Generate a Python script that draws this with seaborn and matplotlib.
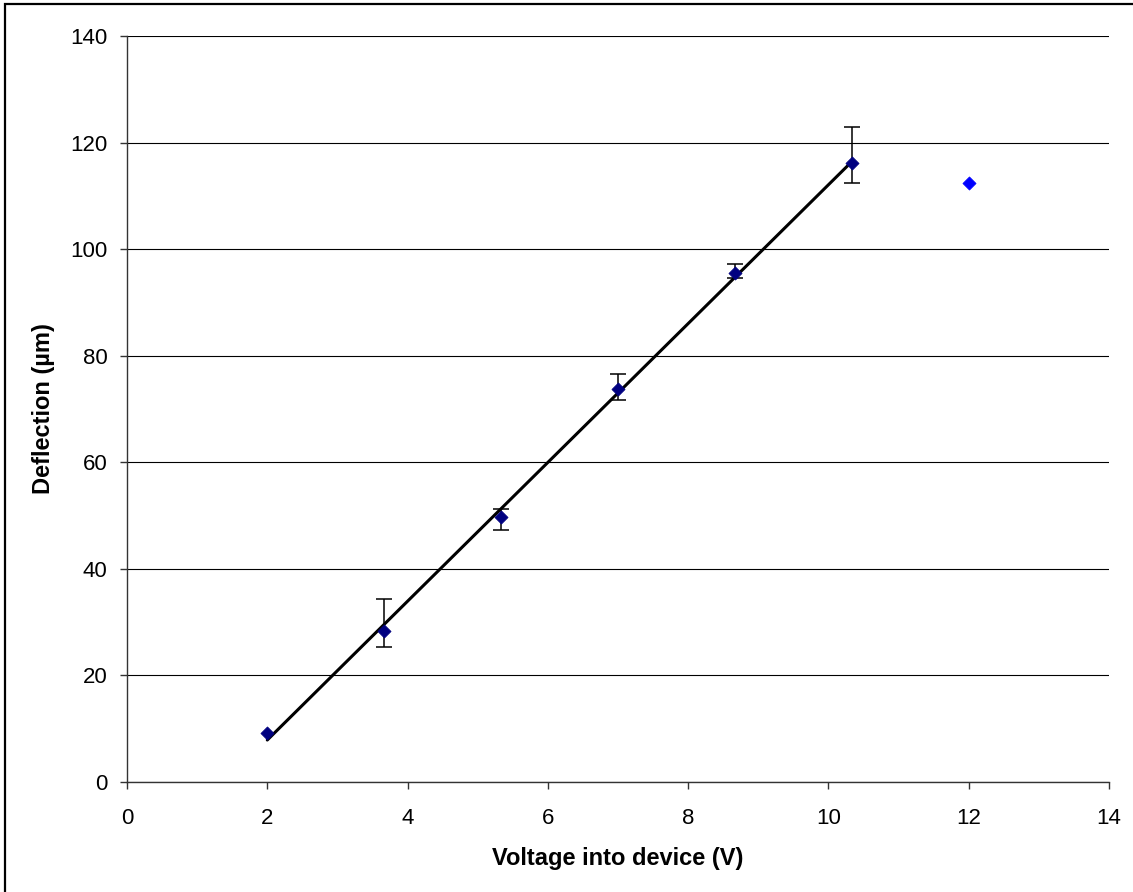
import numpy as np
import pandas as pd
import seaborn as sns
import matplotlib
matplotlib.use("Agg")
import matplotlib.pyplot as plt
from matplotlib.patches import Rectangle

# Measured deflection versus drive voltage
voltage = [2.0, 3.667, 5.333, 7.0, 8.667, 10.333]
deflection = [9.25, 28.4, 49.8, 73.75, 95.6, 116.1]
err_low = [0.0, 3.0, 2.5, 2.05, 1.0, 3.6]
err_high = [0.0, 5.9, 1.4, 2.85, 1.6, 6.8]

# Point taken after the linear range (excluded from the fit)
extra_voltage = [12.0]
extra_deflection = [112.5]

x_ticks = [0, 2, 4, 6, 8, 10, 12, 14]
y_ticks = [0, 20, 40, 60, 80, 100, 120, 140]

sns.set_theme(style="white")
plt.rcParams["font.family"] = ["Liberation Sans", "DejaVu Sans"]
plt.rcParams["text.color"] = "black"
plt.rcParams["axes.labelcolor"] = "black"

W, H = 1133, 892
fig = plt.figure(figsize=(W / 100, H / 100), dpi=100)
ax = fig.add_axes([127 / W, 1 - 782 / H, (1109 - 127) / W, (782 - 36) / H])

df = pd.DataFrame({"voltage": voltage, "deflection": deflection})
df_extra = pd.DataFrame({"voltage": extra_voltage, "deflection": extra_deflection})

# Horizontal gridlines
ax.set_axisbelow(True)
ax.yaxis.grid(True, color="black", linewidth=0.8)
ax.xaxis.grid(False)

# Least-squares line through the linear range
sns.regplot(data=df, x="voltage", y="deflection", ci=None, scatter=False,
            truncate=True, color="black", line_kws={"linewidth": 2.2, "zorder": 3}, ax=ax)

ebar_x = [v for v, lo, hi in zip(voltage, err_low, err_high) if lo + hi > 0]
ebar_y = [d for d, lo, hi in zip(deflection, err_low, err_high) if lo + hi > 0]
ebar_lo = [lo for lo, hi in zip(err_low, err_high) if lo + hi > 0]
ebar_hi = [hi for lo, hi in zip(err_low, err_high) if lo + hi > 0]
ax.errorbar(ebar_x, ebar_y, yerr=[ebar_lo, ebar_hi], fmt="none",
            ecolor="black", elinewidth=1.1, capsize=6, capthick=1.1, zorder=2)

sns.scatterplot(data=df, x="voltage", y="deflection", marker="D", s=45,
                color="#000080", edgecolor="#000080", linewidth=0.5, zorder=4, ax=ax)
sns.scatterplot(data=df_extra, x="voltage", y="deflection", marker="D", s=45,
                color="#0000FF", edgecolor="#0000FF", linewidth=0.5, zorder=4, ax=ax)

ax.set_xlim(0, 14)
ax.set_ylim(0, 140)
ax.set_xticks(x_ticks)
ax.set_yticks(y_ticks)
ax.set_xticklabels([str(t) for t in x_ticks])
ax.set_yticklabels([str(t) for t in y_ticks])

for side in ("top", "right"):
    ax.spines[side].set_visible(False)
for side in ("left", "bottom"):
    ax.spines[side].set_color("#333333")
    ax.spines[side].set_linewidth(1.0)

ax.tick_params(axis="both", direction="out", length=5, width=1.0, color="#333333",
               labelsize=16, labelcolor="black")
ax.tick_params(axis="x", pad=13.5, bottom=True)
ax.tick_params(axis="y", pad=9, left=True)

ax.set_xlabel("Voltage into device (V)", fontsize=17, fontweight="bold",
              labelpad=13, color="black")
ax.set_ylabel("Deflection (µm)", fontsize=17, fontweight="bold",
              labelpad=11, color="black")

# Chart frame
fig.add_artist(Rectangle((5.5 / W, -0.02), 1.05, 1.02 - 3.5 / H, transform=fig.transFigure,
                         fill=False, edgecolor="black", linewidth=1.6, clip_on=False))

fig.savefig("out.png", dpi=100, facecolor="white")
